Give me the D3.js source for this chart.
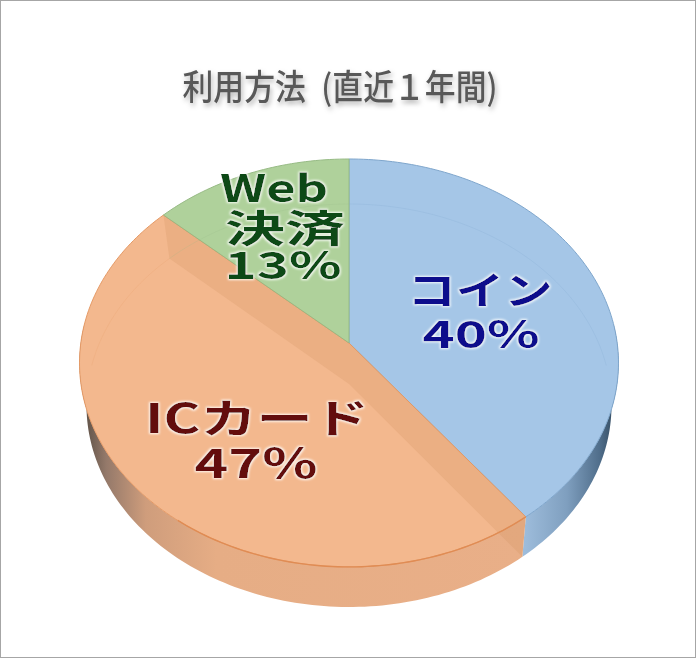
<!DOCTYPE html>
<html>
<head>
<meta charset="utf-8">
<script src="https://cdn.jsdelivr.net/npm/d3@7"></script>
<style>
  html, body { margin: 0; padding: 0; background: #fff; }
  svg { display: block; }
  text { font-family: "Noto Sans CJK JP", "Noto Sans", sans-serif; }
</style>
</head>
<body>
<div id="chart"></div>
<script>
const title = "利用方法\u2002(直近１年間)";
const categories = ["コイン", "ICカード", "Web 決済"];
const values = [39.6, 47.2, 13.2];
const topColors = ["#a5c6e7", "#f3b88e", "#afd19b"];
const edgeColors = ["#7fa6cc", "#e59a66", "#97bb85"];
const textColors = ["#10108c", "#640808", "#0c4a16"];

const width = 696,
  height = 658;

const svg = d3.select("#chart")
  .append("svg")
  .attr("width", width)
  .attr("height", height)
  .attr("viewBox", [0, 0, width, height]);

const defs = svg.append("defs");

const glow = defs.append("filter").attr("id", "glow")
  .attr("x", "-20%").attr("y", "-20%").attr("width", "140%").attr("height", "140%");
glow.append("feMorphology").attr("in", "SourceAlpha").attr("operator", "dilate").attr("radius", 1).attr("result", "fat");
glow.append("feGaussianBlur").attr("in", "fat").attr("stdDeviation", 1).attr("result", "soft");
glow.append("feFlood").attr("flood-color", "#fff").attr("flood-opacity", 0.9);
glow.append("feComposite").attr("in2", "soft").attr("operator", "in").attr("result", "halo");
const glowMerge = glow.append("feMerge");
glowMerge.append("feMergeNode").attr("in", "halo");
glowMerge.append("feMergeNode").attr("in", "SourceGraphic");

const soft = defs.append("filter").attr("id", "soft")
  .attr("x", "-10%").attr("y", "-30%").attr("width", "120%").attr("height", "170%");
soft.append("feDropShadow").attr("dx", 1.5).attr("dy", 3).attr("stdDeviation", 2.5)
  .attr("flood-color", "#000").attr("flood-opacity", 0.3);

const blueWall = defs.append("linearGradient").attr("id", "wall0")
  .attr("gradientUnits", "userSpaceOnUse")
  .attr("x1", 525).attr("x2", 618).attr("y1", 0).attr("y2", 0);
[[0, "#9dbcdb"], [0.45, "#7f9fbf"], [0.8, "#506e8b"], [1, "#2f4558"]].forEach(s =>
  blueWall.append("stop").attr("offset", s[0]).attr("stop-color", s[1]));

const orangeWall = defs.append("linearGradient").attr("id", "wall1")
  .attr("gradientUnits", "userSpaceOnUse")
  .attr("x1", 84).attr("x2", 526).attr("y1", 0).attr("y2", 0);
[[0, "#5c5046"], [0.05, "#94796a"], [0.14, "#cf9d7c"], [0.3, "#e6ad85"], [1, "#e9af88"]].forEach(s =>
  orangeWall.append("stop").attr("offset", s[0]).attr("stop-color", s[1]));

// the disc is drawn in perspective, so the centre is not the middle of the ellipse
const topFace = { cx: 349, cy: 343, a: 268.2, b: 202, k: 0.0978 };
const bottomFace = { cx: 349, cy: 384, a: 261, b: 199.2, k: 0.1067 };

function project(face, angle) {
  const X = Math.sin(angle), Y = Math.cos(angle);
  const den = 1 + face.k * Y;
  return [face.cx + face.a * X / den, face.cy - face.b * Y / den];
}

function arcPoints(face, a0, a1) {
  const n = Math.max(2, Math.ceil(Math.abs(a1 - a0) / 0.02));
  return d3.range(n + 1).map(i => project(face, a0 + (a1 - a0) * i / n));
}

const line = d3.line();

const pie = d3.pie().sort(null);
const slices = pie(values);

// outer wall, only the part that faces the viewer
const frontFrom = Math.PI * 0.47, frontTo = Math.PI * 1.53;
svg.append("g")
  .selectAll("path")
  .data(slices)
  .join("path")
  .filter(d => d.startAngle < frontTo && d.endAngle > frontFrom)
  .attr("fill", d => `url(#wall${d.index})`)
  .attr("d", d => {
    const a0 = Math.max(d.startAngle, frontFrom), a1 = Math.min(d.endAngle, frontTo);
    return line(arcPoints(topFace, a0, a1).concat(arcPoints(bottomFace, a1, a0))) + "Z";
  });

// top faces
svg.append("g")
  .selectAll("path")
  .data(slices)
  .join("path")
  .attr("fill", (d, i) => topColors[i])
  .attr("stroke", (d, i) => edgeColors[i])
  .attr("stroke-width", 1)
  .attr("d", d => line([[topFace.cx, topFace.cy]]
    .concat(arcPoints(topFace, d.startAngle, d.endAngle))) + "Z");

// cut faces of the orange slice, seen through the top
const ic = slices[1];
const innerEdges = [ic.startAngle, ic.endAngle];
svg.append("g")
  .selectAll("path")
  .data(innerEdges)
  .join("path")
  .attr("fill", "#d0925f")
  .attr("fill-opacity", 0.24)
  .attr("d", a => line([
    [topFace.cx, topFace.cy],
    project(topFace, a),
    project(bottomFace, a),
    [bottomFace.cx, bottomFace.cy]
  ]) + "Z");

// far rim of the bottom, faintly visible through the top
svg.append("g")
  .selectAll("path")
  .data(slices)
  .join("path")
  .attr("fill", "none")
  .attr("stroke", (d, i) => edgeColors[i])
  .attr("stroke-opacity", 0.2)
  .attr("d", d => {
    const a0 = d.startAngle, a1 = d.endAngle;
    const pts = a0 < frontFrom ? arcPoints(bottomFace, a0, Math.min(a1, frontFrom))
      : arcPoints(bottomFace, Math.max(a0, frontTo), a1);
    return line(pts);
  });

// orange rim on the front of the top face
svg.append("path")
  .attr("fill", "none")
  .attr("stroke", "#e08c54")
  .attr("stroke-width", 1.4)
  .attr("d", line(arcPoints(topFace, ic.startAngle, Math.PI * 1.2)));

// title
svg.append("text")
  .attr("x", 340)
  .attr("y", 100)
  .attr("text-anchor", "middle")
  .attr("font-size", 35)
  .attr("font-weight", 500)
  .attr("fill", "#595959")
  .attr("filter", "url(#soft)")
  .attr("textLength", 315)
  .attr("lengthAdjust", "spacingAndGlyphs")
  .text(title);

// labels are stretched sideways, each row to its own width
const labelRows = [
  [categories[0], Math.round(values[0]) + "%"],
  [categories[1], Math.round(values[1]) + "%"],
  [...categories[2].split(" "), Math.round(values[2]) + "%"]
];
const rowX = [[480, 481], [257, 256], [274, 285, 283]];
const rowY = [[304, 348], [433, 478], [202, 242, 279]];
const rowWide = [[145, 117], [224, 123], [108, 120, 117]];
const rowSize = [38, 40, 38];

slices.forEach((d, i) => {
  svg.append("g")
    .attr("filter", "url(#glow)")
    .selectAll("text")
    .data(labelRows[i])
    .join("text")
    .attr("x", (t, j) => rowX[i][j])
    .attr("y", (t, j) => rowY[i][j])
    .attr("text-anchor", "middle")
    .attr("font-size", rowSize[i])
    .attr("font-weight", 700)
    .attr("fill", textColors[i])
    .attr("textLength", (t, j) => rowWide[i][j])
    .attr("lengthAdjust", "spacingAndGlyphs")
    .text(t => t);
});

// picture frame
svg.append("rect")
  .attr("x", 0.5)
  .attr("y", 0.5)
  .attr("width", width - 1)
  .attr("height", height - 1)
  .attr("fill", "none")
  .attr("stroke", "#a6a6a6");
</script>
</body>
</html>
